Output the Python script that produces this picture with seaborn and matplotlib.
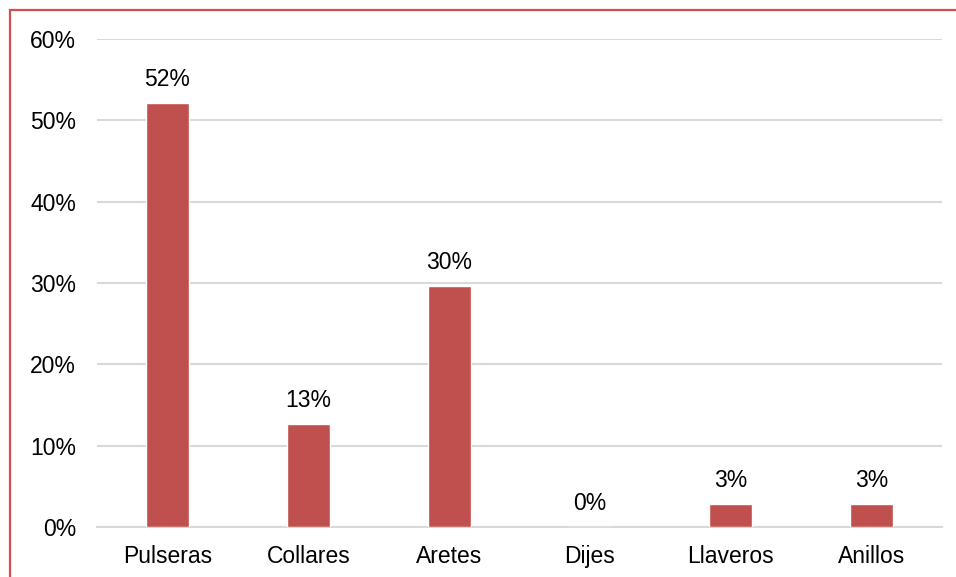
import matplotlib
matplotlib.use("Agg")
import matplotlib.pyplot as plt
from matplotlib.patches import Rectangle
from matplotlib.ticker import FuncFormatter, MultipleLocator
import seaborn as sns
import pandas as pd

categorias = ["Pulseras", "Collares", "Aretes", "Dijes", "Llaveros", "Anillos"]
porcentajes = [52.1, 12.7, 29.6, 0.0, 2.8, 2.8]

sns.set_theme(style="white")
plt.rcParams["font.family"] = ["Liberation Sans", "DejaVu Sans"]

df = pd.DataFrame({"categoria": categorias, "porcentaje": porcentajes})

fig = plt.figure(figsize=(9.56, 5.77), dpi=100)
ax = fig.add_axes([97 / 956, 1 - 527 / 577, (942 - 97) / 956, (527 - 39) / 577])

sns.barplot(data=df, x="categoria", y="porcentaje", color="#c0504d",
            saturation=1, width=0.305, ax=ax, zorder=3)

ax.set_ylim(0, 60)
ax.yaxis.set_major_locator(MultipleLocator(10))
ax.yaxis.set_major_formatter(FuncFormatter(lambda v, _: f"{v:.0f}%"))
ax.grid(axis="y", color="#d9d9d9", linewidth=1.5, zorder=0)
ax.set_axisbelow(True)
for side in ["left", "right", "top"]:
    ax.spines[side].set_visible(False)
ax.spines["bottom"].set_color("#d9d9d9")
ax.spines["bottom"].set_linewidth(1.5)
ax.set_xlabel("")
ax.set_ylabel("")
ax.tick_params(axis="both", length=0, labelsize=16.5, colors="black")
ax.tick_params(axis="y", pad=15)
ax.tick_params(axis="x", pad=13)

for i, v in enumerate(porcentajes):
    ax.annotate(f"{v:.0f}%", (i, v), xytext=(0, 8.5), textcoords="offset points",
                ha="center", va="bottom", fontsize=16.5, color="black")

# outer frame of the chart area
fig.patches.append(Rectangle((10 / 956, -0.1), 1.2, 1 - 10 / 577 + 0.1,
                             transform=fig.transFigure, fill=False,
                             edgecolor="#d0504f", linewidth=1.6))

fig.savefig("out.png", dpi=100)
